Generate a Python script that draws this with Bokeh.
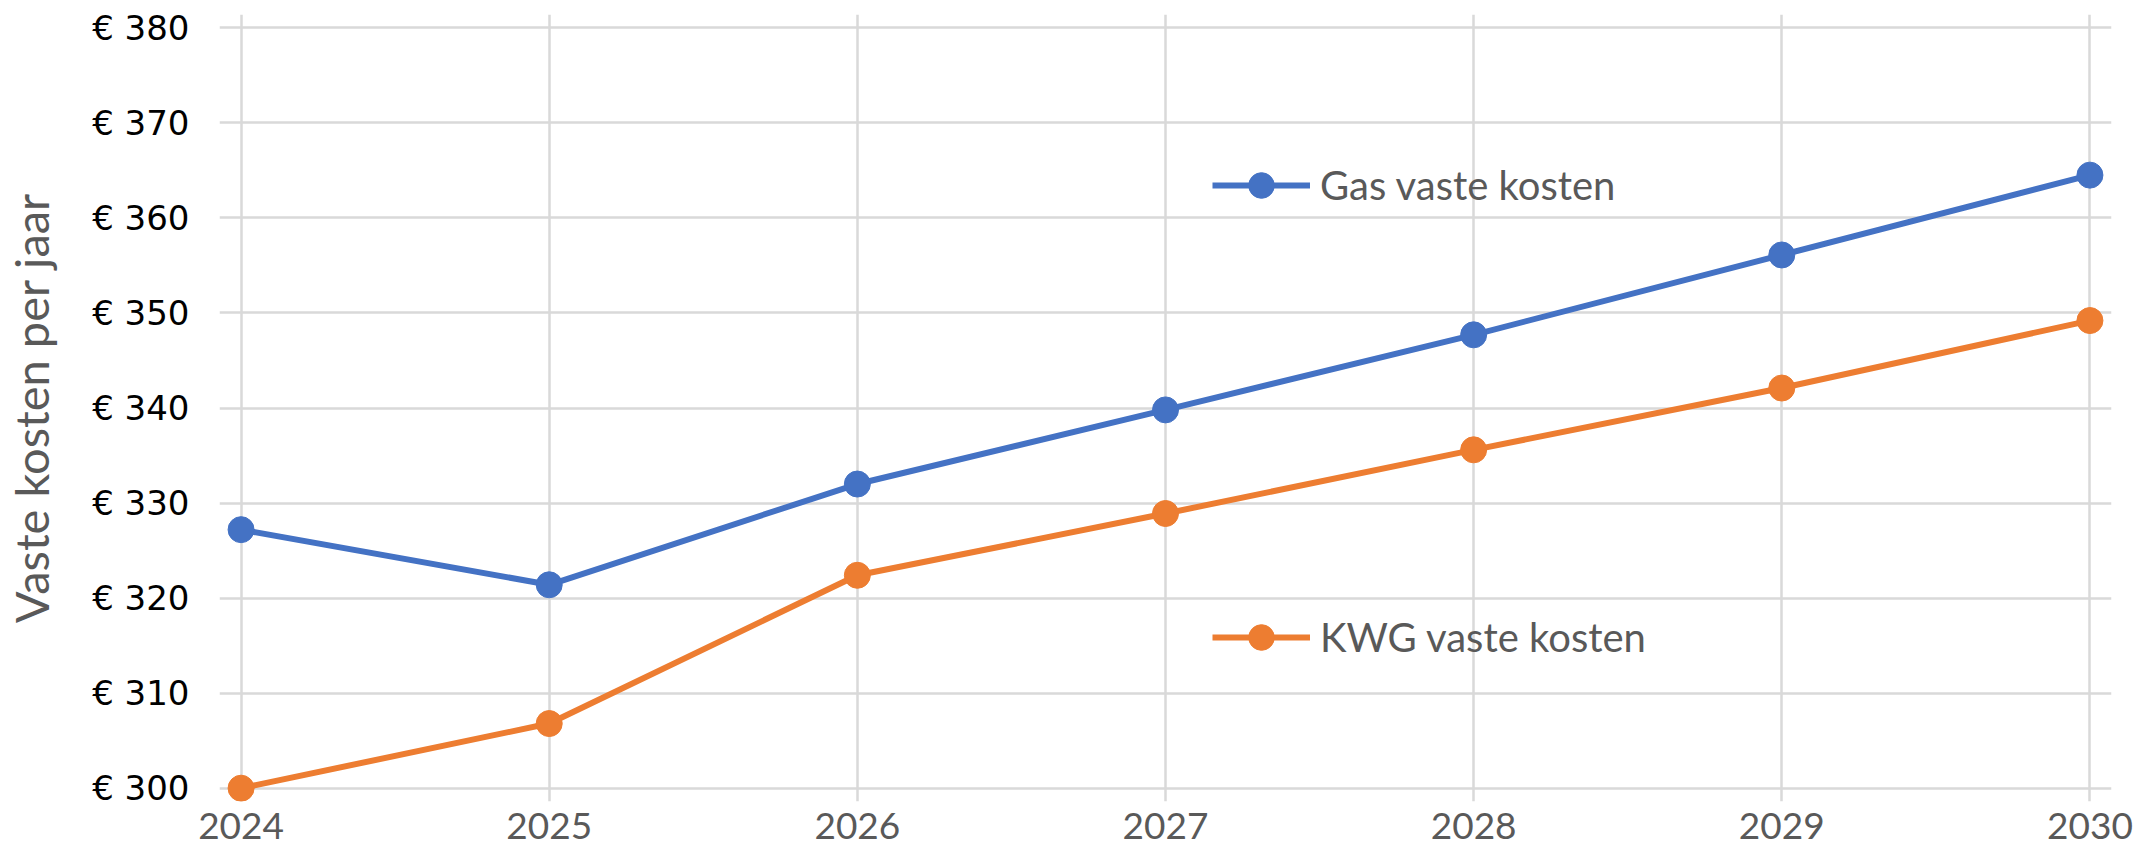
from bokeh.plotting import figure
from bokeh.models import Range1d, FixedTicker, Legend, LegendItem
from bokeh.embed import file_html
from bokeh.resources import INLINE

years = [2024, 2025, 2026, 2027, 2028, 2029, 2030]
gas = [327.2, 321.4, 332.0, 339.8, 347.7, 356.1, 364.5]
kwg = [300.0, 306.8, 322.4, 328.9, 335.6, 342.1, 349.2]
y_ticks = [300, 310, 320, 330, 340, 350, 360, 370, 380]
y_tick_labels = ["€ 300", "€ 310", "€ 320", "€ 330", "€ 340", "€ 350", "€ 360", "€ 370", "€ 380"]
gas_name = "Gas vaste kosten"
kwg_name = "KWG vaste kosten"
y_title = "Vaste kosten per jaar"

BLUE = "#4472C4"
ORANGE = "#ED7D31"
GRID = "#D9D9D9"
GREY = "#595959"

p = figure(frame_width=1892, frame_height=787, output_backend="svg", toolbar_location=None,
           x_range=Range1d(2023.93, 2030.07), y_range=Range1d(298.6, 381.4),
           min_border_left=211, min_border_top=14, min_border_right=36, min_border_bottom=56)
p.outline_line_color = None
p.background_fill_color = "white"

# axes
p.xaxis.ticker = FixedTicker(ticks=years)
p.yaxis.ticker = FixedTicker(ticks=y_ticks)
p.yaxis.major_label_overrides = {t: l for t, l in zip(y_ticks, y_tick_labels)}
p.xaxis.major_label_overrides = {y: str(y) for y in years}
for ax in (p.xaxis, p.yaxis):
    ax.axis_line_color = None
    ax.major_tick_line_color = None
    ax.minor_tick_line_color = None
    ax.major_tick_out = 0
    ax.major_tick_in = 0
p.yaxis.major_label_text_font = "DejaVu Sans"
p.yaxis.major_label_text_font_size = "34px"
p.yaxis.major_label_text_color = "black"
p.yaxis.major_label_standoff = 30
p.yaxis.axis_label = y_title
p.yaxis.axis_label_text_font = "Lato"
p.yaxis.axis_label_text_font_style = "normal"
p.yaxis.axis_label_text_font_size = "47px"
p.yaxis.axis_label_text_color = GREY
p.yaxis.axis_label_standoff = 30
p.xaxis.major_label_text_font = "Lato"
p.xaxis.major_label_text_font_size = "37px"
p.xaxis.major_label_text_color = GREY
p.xaxis.major_label_standoff = 11

# grid
p.xgrid.grid_line_color = GRID
p.ygrid.grid_line_color = GRID
p.xgrid.grid_line_width = 2.5
p.ygrid.grid_line_width = 2.5
p.xgrid.bounds = (y_ticks[0], y_ticks[-1])
p.ygrid.bounds = (years[0], years[-1])

gl = p.line(years, gas, line_color=BLUE, line_width=6)
gs = p.scatter(years, gas, size=26, fill_color=BLUE, line_color=BLUE)
kl = p.line(years, kwg, line_color=ORANGE, line_width=6)
ks = p.scatter(years, kwg, size=26, fill_color=ORANGE, line_color=ORANGE)

def make_legend(name, rends, loc):
    lg = Legend(items=[LegendItem(label=name, renderers=rends)], location=loc,
                glyph_width=98, glyph_height=64, label_standoff=10, padding=0, margin=0,
                border_line_color=None, background_fill_alpha=0,
                label_text_font="Lato", label_text_font_size="40px", label_text_color=GREY)
    p.add_layout(lg, "center")

make_legend(gas_name, [gl, gs], (993, 584))
make_legend(kwg_name, [kl, ks], (993, 132))

open("out.html", "w").write(file_html(p, INLINE))
